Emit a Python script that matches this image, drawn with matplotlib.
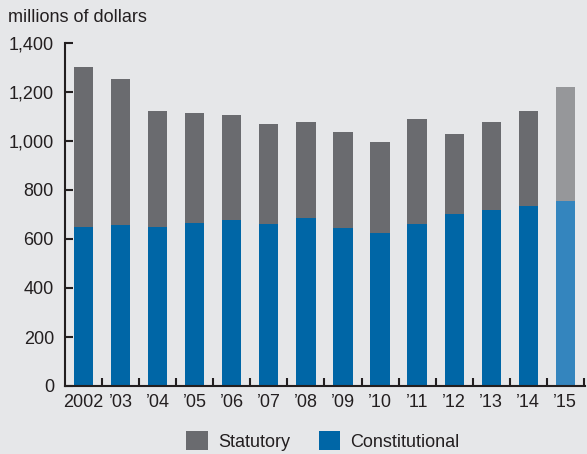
import numpy as np
import matplotlib.pyplot as plt
from matplotlib.patches import Patch

# 数据
years = ["2002", "\u201903", "\u201904", "\u201905", "\u201906", "\u201907", "\u201908",
         "\u201909", "\u201910", "\u201911", "\u201912", "\u201913", "\u201914", "\u201915"]
constitutional = [648, 657, 650, 665, 678, 662, 686, 645, 624, 661, 702, 718, 735, 755]
total = [1300, 1253, 1122, 1114, 1106, 1069, 1078, 1037, 996, 1090, 1029, 1078, 1122, 1220]
statutory = [t - c for t, c in zip(total, constitutional)]

bg = "#e6e7e9"
gray = "#6a6b6f"
blue = "#0066a6"
gray_light = "#96979a"
blue_light = "#3485be"

plt.rcParams["font.family"] = ["Liberation Sans", "DejaVu Sans"]

fig = plt.figure(figsize=(5.87, 4.54), dpi=100, facecolor=bg)
ax = fig.add_axes([65 / 587, 1 - 386 / 454, 520 / 587, 343 / 454])
ax.set_facecolor(bg)

x = np.arange(len(years))
c_colors = [blue] * (len(years) - 1) + [blue_light]
s_colors = [gray] * (len(years) - 1) + [gray_light]

ax.bar(x, constitutional, width=0.52, color=c_colors, linewidth=0)
ax.bar(x, statutory, width=0.52, bottom=constitutional, color=s_colors, linewidth=0)

ax.set_xlim(-0.5, len(years) - 0.47)
ax.set_ylim(0, 1400)
ax.set_yticks(range(0, 1401, 200))
ax.set_yticklabels([f"{v:,}" for v in range(0, 1401, 200)], fontsize=13, color="#231f20")

# x 轴刻度画在柱子之间，标签放在柱子正下方
ax.set_xticks(x + 0.5, minor=False)
ax.set_xticklabels([])
ax.set_xticks(x, minor=True)
ax.set_xticklabels(years, minor=True, fontsize=13, color="#231f20")
ax.tick_params(axis="x", which="minor", length=0, pad=6)
ax.tick_params(axis="x", which="major", direction="in", length=6, width=1.5, color="#231f20")
ax.tick_params(axis="y", direction="in", length=6, width=1.5, color="#231f20", pad=8)

for side in ["top", "right"]:
    ax.spines[side].set_visible(False)
for side in ["left", "bottom"]:
    ax.spines[side].set_linewidth(1.5)
    ax.spines[side].set_color("#231f20")

fig.text(8 / 587, 1 - 18 / 454, "millions of dollars", fontsize=13, va="center",
         ha="left", color="#231f20")

handles = [Patch(facecolor=gray, linewidth=0), Patch(facecolor=blue, linewidth=0)]
fig.legend(handles, ["Statutory", "Constitutional"], ncol=2, loc="center",
           bbox_to_anchor=(323 / 587, 1 - 441 / 454), frameon=False, fontsize=13,
           handlelength=1.2, handleheight=1.2, handletextpad=0.55, columnspacing=1.6,
           labelcolor="#231f20")

fig.savefig("out.png", dpi=100, facecolor=bg)
